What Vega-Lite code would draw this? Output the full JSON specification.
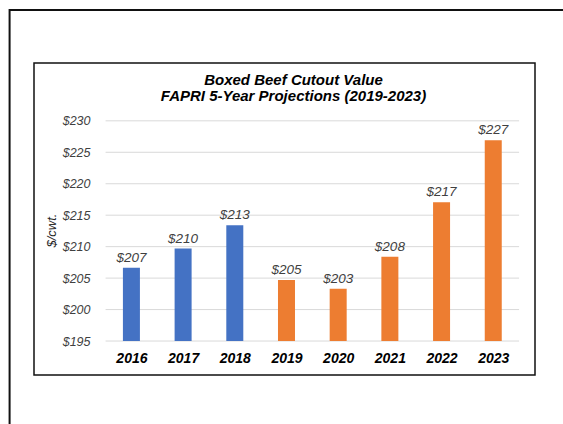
{
  "$schema": "https://vega.github.io/schema/vega-lite/v6.json",
  "width": 501,
  "height": 312,
  "autosize": {"type": "none"},
  "padding": {"left": 34, "top": 63, "right": 28, "bottom": 49},
  "background": "white",
  "title": {
    "text": ["Boxed Beef Cutout Value", "FAPRI 5-Year Projections (2019-2023)"],
    "anchor": "middle",
    "frame": "group",
    "baseline": "top",
    "offset": -95,
    "dx": 9,
    "fontSize": 15,
    "fontWeight": "bold",
    "fontStyle": "italic",
    "color": "black",
    "lineHeight": 16
  },
  "datasets": {
    "bars": [
      {"year": 2016, "value": 206.65, "type": "Actual"},
      {"year": 2017, "value": 209.7, "type": "Actual"},
      {"year": 2018, "value": 213.4, "type": "Actual"},
      {"year": 2019, "value": 204.7, "type": "Projected"},
      {"year": 2020, "value": 203.3, "type": "Projected"},
      {"year": 2021, "value": 208.4, "type": "Projected"},
      {"year": 2022, "value": 217.05, "type": "Projected"},
      {"year": 2023, "value": 226.9, "type": "Projected"}
    ],
    "grid": [
      {"v": 195}, {"v": 200}, {"v": 205}, {"v": 210},
      {"v": 215}, {"v": 220}, {"v": 225}, {"v": 230}
    ]
  },
  "layer": [
    {
      "data": {"values": [{"frame": "outer"}]},
      "mark": {"type": "rect", "fill": null, "stroke": "#111111", "strokeWidth": 2, "clip": false},
      "encoding": {
        "x": {"datum": 2013.643, "type": "quantitative"},
        "x2": {"datum": 2030},
        "y": {"datum": 247.61, "type": "quantitative"},
        "y2": {"datum": 150}
      }
    },
    {
      "data": {"name": "grid"},
      "mark": {"type": "rule", "color": "#D9D9D9", "strokeWidth": 1},
      "encoding": {
        "y": {"field": "v", "type": "quantitative"},
        "x": {"datum": 2015.5, "type": "quantitative"},
        "x2": {"datum": 2023.5}
      }
    },
    {
      "data": {"name": "bars"},
      "mark": {"type": "bar", "size": 17},
      "encoding": {
        "x": {"field": "year", "type": "quantitative"},
        "y": {"field": "value", "type": "quantitative"},
        "y2": {"datum": 195},
        "color": {
          "field": "type",
          "type": "nominal",
          "scale": {"domain": ["Actual", "Projected"], "range": ["#4472C4", "#ED7D31"]},
          "legend": null
        }
      }
    },
    {
      "data": {"name": "bars"},
      "mark": {"type": "text", "fontStyle": "italic", "fontSize": 13.5, "color": "#404040", "baseline": "alphabetic", "dy": -6},
      "encoding": {
        "x": {"field": "year", "type": "quantitative"},
        "y": {"field": "value", "type": "quantitative"},
        "text": {"field": "value", "type": "quantitative", "format": "$.0f"}
      }
    }
  ],
  "resolve": {"scale": {"x": "shared", "y": "shared"}},
  "encoding": {
    "x": {
      "type": "quantitative",
      "scale": {"domain": [2014.212, 2023.711], "nice": false, "zero": false},
      "axis": {
        "values": [2016, 2017, 2018, 2019, 2020, 2021, 2022, 2023],
        "format": "d",
        "title": null,
        "grid": false,
        "domain": false,
        "ticks": false,
        "tickSize": 0,
        "offset": -34,
        "labelPadding": 10,
        "labelFontSize": 14,
        "labelFontWeight": "bold",
        "labelFontStyle": "italic",
        "labelColor": "black",
        "labelFlush": false,
        "labelOverlap": false
      }
    },
    "y": {
      "type": "quantitative",
      "scale": {"domain": [189.6, 239.19], "nice": false, "zero": false},
      "axis": {
        "values": [195, 200, 205, 210, 215, 220, 225, 230],
        "labelExpr": "'$' + datum.value",
        "title": "$/cwt.",
        "grid": false,
        "domain": false,
        "ticks": false,
        "tickSize": 0,
        "offset": -68,
        "labelPadding": 12,
        "labelFontSize": 12.5,
        "labelFontStyle": "italic",
        "labelColor": "#404040",
        "labelFlush": false,
        "labelOverlap": false,
        "titleFontSize": 13,
        "titleFontStyle": "italic",
        "titleFontWeight": "normal",
        "titleColor": "#262626",
        "titleAngle": -90,
        "titleAlign": "center",
        "titleBaseline": "middle",
        "titleX": -51,
        "titleY": 167
      }
    }
  },
  "config": {
    "font": "Liberation Sans",
    "view": {"stroke": "#111111", "strokeWidth": 1.5}
  }
}
